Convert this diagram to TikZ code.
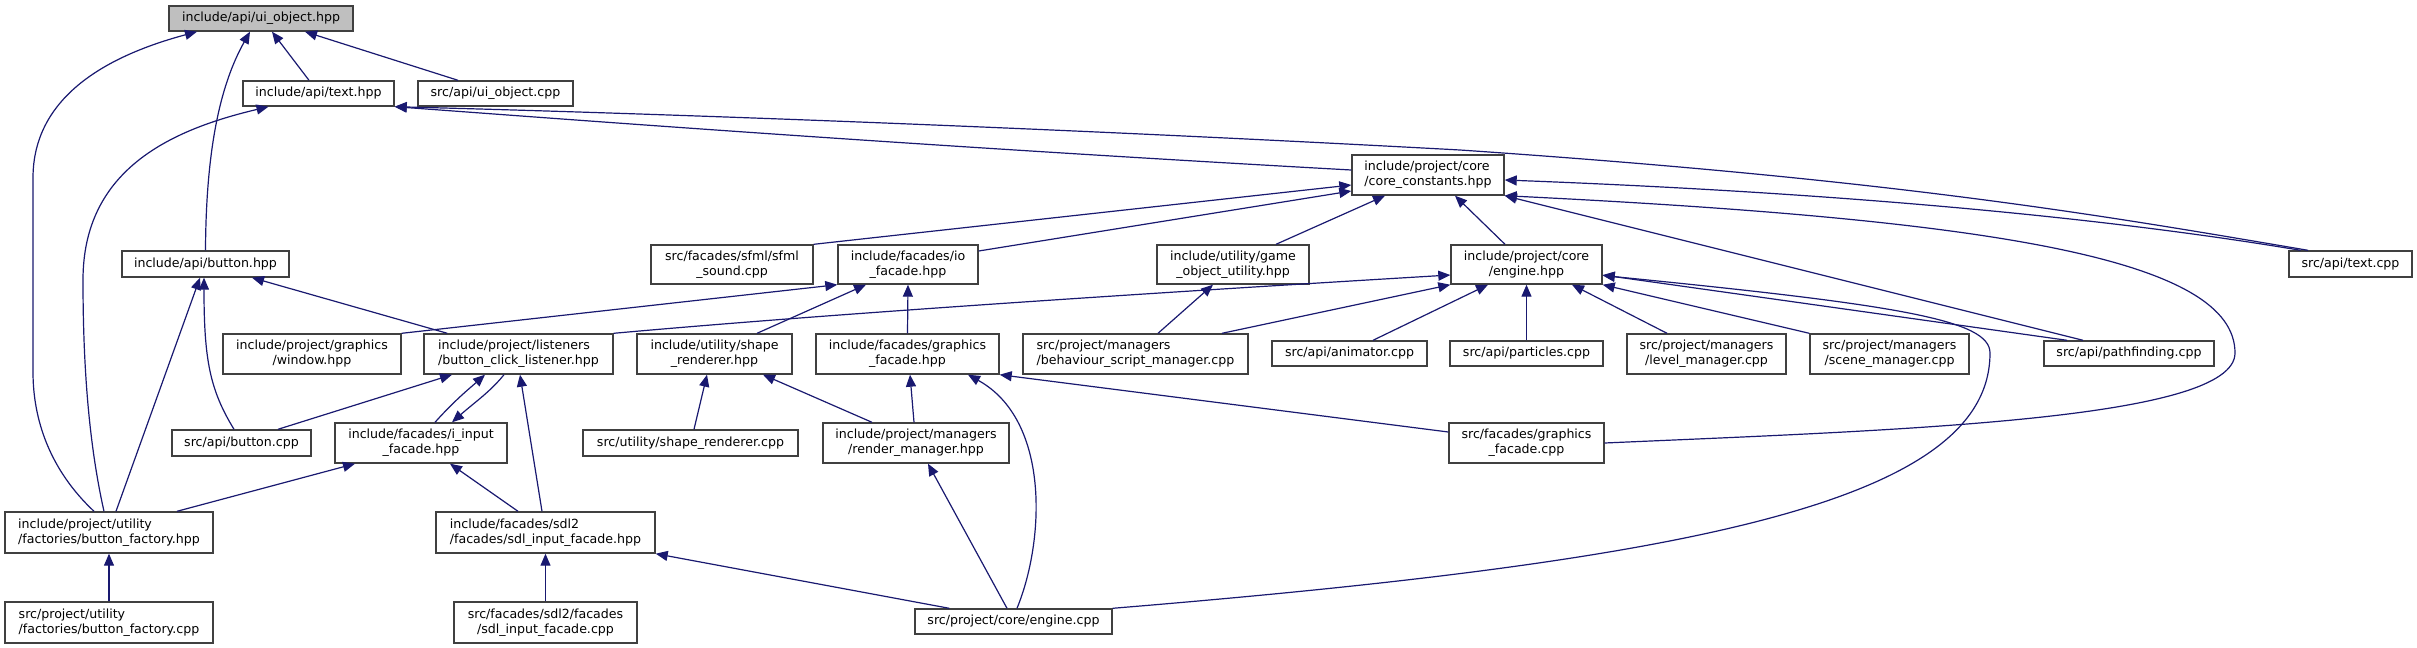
\documentclass[tikz,border=0pt]{standalone}
\usepackage{fontspec}
\setmainfont{DejaVu Sans}
\usetikzlibrary{arrows.meta,calc}
\definecolor{edgec}{HTML}{191970}
\definecolor{boxc}{HTML}{404040}
\definecolor{grayfill}{HTML}{BFBFBF}
\newcommand{\dvs}{\fontsize{6.3}{7.5}\selectfont}
\tikzset{
  box/.style={draw=boxc, line width=0.7pt, fill=white, inner sep=0pt, font=\dvs, align=center},
  lbox/.style={box, align=left},
  sz/.style 2 args={minimum width=#1*0.5pt, minimum height=#2*0.5pt},
  edge/.style={draw=edgec, line width=0.6pt, -{Triangle[length=6pt,width=5pt]}},
}
\begin{document}
\begin{tikzpicture}[x=0.5pt,y=-0.5pt]
\fill[white] (0,0) rectangle (2417,648);
\useasboundingbox (0,0) rectangle (2417,648);
% nodes
\node[box,fill=grayfill,sz={184}{25}] (uiobj) at (261,18.5) {include/api/ui\_object.hpp};
\node[box,sz={151}{25}] (texthpp) at (318.5,93.5) {include/api/text.hpp};
\node[box,sz={155}{25}] (uiobjcpp) at (495.5,93.5) {src/api/ui\_object.cpp};
\node[box,sz={167}{26}] (buttonhpp) at (205.5,264) {include/api/button.hpp};
\node[box,sz={178}{40}] (window) at (312,354) {include/project/graphics\\/window.hpp};
\node[lbox,sz={189}{40}] (listener) at (518.5,354) {include/project/listeners\\/button\_click\_listener.hpp};
\node[box,sz={139}{26}] (buttoncpp) at (241.5,443) {src/api/button.cpp};
\node[box,sz={172}{40}] (iinput) at (421,443) {include/facades/i\_input\\\_facade.hpp};
\node[lbox,sz={208}{41}] (bfhpp) at (109,532.5) {include/project/utility\\/factories/button\_factory.hpp};
\node[lbox,sz={208}{41}] (bfcpp) at (109,622.5) {src/project/utility\\/factories/button\_factory.cpp};
\node[lbox,sz={219}{41}] (sdlhpp) at (545.5,532.5) {include/facades/sdl2\\/facades/sdl\_input\_facade.hpp};
\node[box,sz={183}{41}] (sdlcpp) at (545.5,622.5) {src/facades/sdl2/facades\\/sdl\_input\_facade.cpp};
\node[box,sz={162}{39}] (sfml) at (732,264.5) {src/facades/sfml/sfml\\\_sound.cpp};
\node[box,sz={140}{39}] (io) at (908,264.5) {include/facades/io\\\_facade.hpp};
\node[box,sz={155}{40}] (shapehpp) at (714.5,354) {include/utility/shape\\\_renderer.hpp};
\node[box,sz={183}{40}] (gfhpp) at (907.5,354) {include/facades/graphics\\\_facade.hpp};
\node[box,sz={215}{26}] (shapecpp) at (690.5,443) {src/utility/shape\_renderer.cpp};
\node[box,sz={186}{40}] (render) at (916,443) {include/project/managers\\/render\_manager.hpp};
\node[box,sz={197}{25}] (enginecpp) at (1013.5,621.5) {src/project/core/engine.cpp};
\node[lbox,sz={152}{40}] (core) at (1428,175) {include/project/core\\/core\_constants.hpp};
\node[box,sz={152}{39}] (gou) at (1233,264.5) {include/utility/game\\\_object\_utility.hpp};
\node[lbox,sz={225}{40}] (behaviour) at (1135.5,354) {src/project/managers\\/behaviour\_script\_manager.cpp};
\node[box,sz={155}{25}] (animator) at (1349.5,353.5) {src/api/animator.cpp};
\node[box,sz={151}{39}] (enginehpp) at (1526.5,264.5) {include/project/core\\/engine.hpp};
\node[box,sz={153}{25}] (particles) at (1526.5,353.5) {src/api/particles.cpp};
\node[box,sz={155}{40}] (gfcpp) at (1526.5,443) {src/facades/graphics\\\_facade.cpp};
\node[box,sz={159}{40}] (level) at (1706.5,354) {src/project/managers\\/level\_manager.cpp};
\node[box,sz={159}{40}] (scene) at (1889.5,354) {src/project/managers\\/scene\_manager.cpp};
\node[box,sz={170}{25}] (pathfinding) at (2129,353.5) {src/api/pathfinding.cpp};
\node[box,sz={123}{26}] (textcpp) at (2350.5,264) {src/api/text.cpp};
% edges
\draw[edge] ($(bfhpp.north)+(-15,0)$) .. controls (50,470) and (33,420) .. (33,372) -- (33,178) .. controls (33,95) and (110,55) .. ($(uiobj.south)+(-64,0)$);
\draw[edge] (buttonhpp.north) .. controls (206,150) and (220,85) .. ($(uiobj.south)+(-11,0)$);
\draw[edge] ($(texthpp.north)+(-9.5,0)$) -- ($(uiobj.south)+(11,0)$);
\draw[edge] ($(uiobjcpp.north)+(-37.5,0)$) -- ($(uiobj.south)+(44,0)$);
\draw[edge] ($(bfhpp.north)+(-5,0)$) .. controls (88,440) and (83,360) .. (83,280) .. controls (83,170) and (170,130) .. ($(texthpp.south)+(-50,0)$);
\draw[edge] ($(core.west)+(0,-5)$) .. controls (900,145) and (550,118) .. (texthpp.south east);
\draw[edge] ($(textcpp.north)+(-42.5,0)$) .. controls (2100,215) and (1900,180) .. (1460,150) .. controls (1000,125) and (600,112) .. (texthpp.south east);
\draw[edge] (sfml.north east) -- ($(core.west)+(0,10)$);
\draw[edge] ($(io.east)+(0,-13.5)$) -- ($(core.west)+(0,16)$);
\draw[edge] ($(gou.north)+(43,0)$) -- ($(core.south)+(-43,0)$);
\draw[edge] ($(enginehpp.north)+(-21.5,0)$) -- ($(core.south)+(27,0)$);
\draw[edge] ($(textcpp.north)+(-50,0)$) .. controls (2150,225) and (1900,195) .. ($(core.east)+(0,5)$);
\draw[edge] ($(pathfinding.north)+(-46,0)$) -- (core.south east);
\draw[edge] (gfcpp.east) .. controls (1900,430) and (2235,420) .. (2235,353) .. controls (2235,260) and (2000,220) .. (core.south east);
\draw[edge] (listener.north east) .. controls (850,312) and (1200,290) .. ($(enginehpp.west)+(0,10.5)$);
\draw[edge] ($(behaviour.north)+(86.5,0)$) -- (enginehpp.south west);
\draw[edge] ($(animator.north)+(23.5,0)$) -- ($(enginehpp.south)+(-38.5,0)$);
\draw[edge] (particles.north) -- (enginehpp.south);
\draw[edge] ($(level.north)+(-39.5,0)$) -- ($(enginehpp.south)+(45.5,0)$);
\draw[edge] (scene.north west) -- (enginehpp.south east);
\draw[edge] ($(pathfinding.north)+(-62,0)$) -- ($(enginehpp.east)+(0,10.5)$);
\draw[edge] (enginecpp.north east) .. controls (1700,560) and (1990,500) .. (1990,353) .. controls (1990,320) and (1900,305) .. ($(enginehpp.east)+(0,11)$);
\draw[edge] ($(gfcpp.west)+(0,-11)$) -- (gfhpp.south east);
\draw[edge] ($(render.north)+(-2,0)$) -- ($(gfhpp.south)+(2.5,0)$);
\draw[edge] ($(enginecpp.north)+(3.5,0)$) .. controls (1045,540) and (1050,420) .. ($(gfhpp.south)+(60.5,0)$);
\draw[edge] (window.north east) -- (io.south west);
\draw[edge] ($(shapehpp.north)+(42.5,0)$) -- ($(io.south)+(-42,0)$);
\draw[edge] (gfhpp.north) -- (io.south);
\draw[edge] ($(shapecpp.north)+(3.5,0)$) -- ($(shapehpp.south)+(-7.5,0)$);
\draw[edge] ($(render.north)+(-44,0)$) -- ($(shapehpp.south)+(48.5,0)$);
\draw[edge] ($(enginecpp.north)+(-6.5,0)$) -- ($(render.south)+(12,0)$);
\draw[edge] (sdlcpp.north) -- (sdlhpp.south);
\draw[edge] ($(enginecpp.north west)+(35,0)$) -- (sdlhpp.south east);
\draw[edge] ($(listener.north west)+(24,0)$) -- ($(buttonhpp.south)+(46.5,0)$);
\draw[edge] ($(buttoncpp.north)+(36.5,0)$) -- ($(listener.south)+(-66.5,0)$);
\draw[edge] ($(iinput.north)+(14,0)$) .. controls (455,400) and (470,388) .. ($(listener.south)+(-33.5,0)$);
\draw[edge] ($(listener.south)+(-14.5,0)$) .. controls (490,392) and (475,402) .. ($(iinput.north)+(31,0)$);
\draw[edge] ($(sdlhpp.north)+(-3.5,0)$) -- ($(listener.south)+(1.5,0)$);
\draw[edge] ($(bfhpp.north)+(68,0)$) -- ($(iinput.south)+(-66,0)$);
\draw[edge] ($(sdlhpp.north)+(-27.5,0)$) -- ($(iinput.south)+(29,0)$);
\draw[edge] ($(bfhpp.north)+(7,0)$) -- ($(buttonhpp.south)+(-5.5,0)$);
\draw[edge] ($(buttoncpp.north)+(-7.5,0)$) .. controls (210,390) and (204,360) .. ($(buttonhpp.south)+(-1.5,0)$);
\draw[edge] (bfcpp.north) -- (bfhpp.south);
\draw[edge] ($(behaviour.north)+(22.5,0)$) -- ($(gou.south)+(-20,0)$);
\end{tikzpicture}
\end{document}
